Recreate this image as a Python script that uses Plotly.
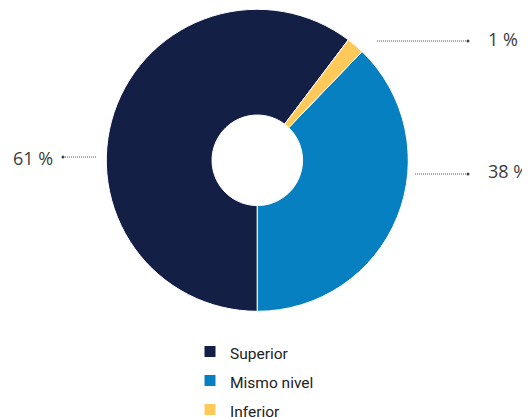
import plotly.graph_objects as go

# Data
categories = ["Superior", "Mismo nivel", "Inferior"]
values = [60.3, 37.8, 1.9]
value_labels = ["61 %", "38 %", "1 %"]
colors = ["#131f44", "#0780c2", "#ffc95a"]

# The page has an 8px body margin; figure sized to fill the 530x417 window
OFF = 8
W, H = 530 - OFF, 417 - OFF

def px(x):  # screen x -> paper fraction
    return (x - OFF) / W

def py(y):  # screen y -> paper fraction
    return 1 - (y - OFF) / H

legend_labels = ["<span style='font-size:15.5px'>%s</span>" % c for c in categories]

fig = go.Figure()
fig.add_trace(go.Pie(
    labels=legend_labels,
    values=values,
    sort=False,
    direction="counterclockwise",
    rotation=180,
    hole=0.3,
    textinfo="none",
    hoverinfo="percent",
    marker=dict(colors=colors, line=dict(color="white", width=1)),
    domain=dict(x=[px(106.3), px(408.3)], y=[py(311.3), py(9.3)]),
))

# Outside labels with dotted leader lines (layout decoration)
label_specs = [
    # idx, text left x, text center y, line x0, line x1, line y, dot x
    (0, 11, 158, 63, 96, 157, 63),
    (1, 486, 171, 415, 468, 174, 468),
    (2, 486, 38.5, 377, 468, 41, 468),
]
shapes = []
annotations = []
for idx, tx, ty, lx0, lx1, ly, dx in label_specs:
    annotations.append(dict(
        text=value_labels[idx], x=px(tx), y=py(ty), xref="paper", yref="paper",
        xanchor="left", yanchor="middle", showarrow=False,
        font=dict(family="Open Sans", size=18, color="#3c3c3c"),
    ))
    shapes.append(dict(
        type="line", xref="paper", yref="paper",
        x0=px(lx0), x1=px(lx1), y0=py(ly), y1=py(ly),
        line=dict(color="#555555", width=1, dash="1px,1px"),
    ))
    r = 1.5
    shapes.append(dict(
        type="circle", xref="paper", yref="paper",
        x0=px(dx - r), x1=px(dx + r), y0=py(ly + r), y1=py(ly - r),
        fillcolor="#444444", line=dict(width=0),
    ))

fig.update_layout(
    width=W, height=H,
    margin=dict(l=0, r=0, t=0, b=0, autoexpand=False),
    paper_bgcolor="white",
    plot_bgcolor="white",
    showlegend=True,
    legend=dict(
        x=px(190), y=py(332), xanchor="left", yanchor="top",
        font=dict(family="Roboto", size=20, color="#222222"),
        bgcolor="rgba(0,0,0,0)",
    ),
    shapes=shapes,
    annotations=annotations,
)

fig.write_html("out.html")
